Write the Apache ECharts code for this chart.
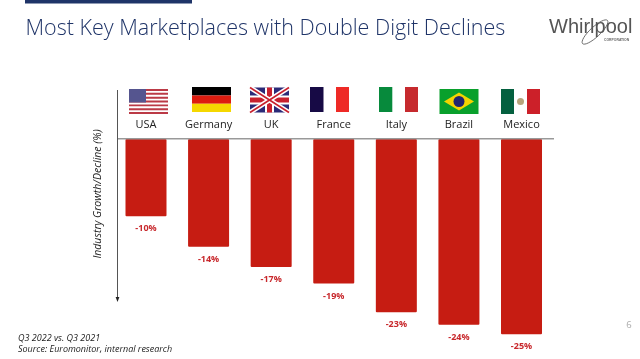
<!DOCTYPE html>
<html><head><meta charset="utf-8">
<style>html,body{margin:0;padding:0;background:#fff}#c{width:640px;height:359px}</style>
<script src="https://cdn.jsdelivr.net/npm/echarts@6/dist/echarts.min.js"></script>
</head><body><div id="c"></div>
<script>
var categories = ['USA','Germany','UK','France','Italy','Brazil','Mexico'];
var barValues = [-9.9, -13.8, -16.4, -18.5, -22.2, -23.8, -25];
var labelTexts = ['-10%','-14%','-17%','-19%','-23%','-24%','-25%'];

var chart = echarts.init(document.getElementById('c'), null, {renderer:'canvas'});
var FONT = '"Open Sans"';
function r(x,y,w,h,fill,z){return {type:'rect',shape:{x:x,y:y,width:w,height:h},style:{fill:fill},z:z||10};}
function poly(pts,fill){return {type:'polygon',shape:{points:pts},style:{fill:fill},z:11};}
function line(a,b,c,d,col,w){return {type:'line',shape:{x1:a,y1:b,x2:c,y2:d},style:{stroke:col,lineWidth:w},z:11};}

var g = [];
// header band
g.push(r(25,0,167,3.5,'#1f3468'));
// US flag
g.push(r(129,89,39,25,'#fff'));
for(var i=0;i<7;i++){g.push(r(129,89+i*3.85,39,1.95,'#bb3a46'));}
g.push(r(129,89,17,13.5,'#55558f'));
// Germany
g.push(r(192,87,39,8.4,'#000'));g.push(r(192,95.4,39,8.4,'#dd1c10'));g.push(r(192,103.8,39,8.3,'#f5d800'));
// UK
g.push(r(250,87.5,39,25,'#2b2a78'));
g.push(line(250,87.5,289,112.5,'#fff',5));g.push(line(289,87.5,250,112.5,'#fff',5));
g.push(line(250,87.5,289,112.5,'#c8202e',1.6));g.push(line(289,87.5,250,112.5,'#c8202e',1.6));
g.push(r(265,87.5,9,25,'#fff'));g.push(r(250,95.5,39,9,'#fff'));
g.push(r(267,87.5,5,25,'#c8202e'));g.push(r(250,97.5,39,5,'#c8202e'));
// France
g.push(r(310,87,13.5,25,'#170a45'));g.push(r(336,87,13,25,'#ee2a26'));
// Italy
g.push(r(379,87,13.3,25,'#078a3c'));g.push(r(405,87,13,25,'#c62a2e'));
// Brazil
g.push(r(439.5,89,39,25,'#09a02c'));
g.push(poly([[444,101.5],[459,92.5],[474,101.5],[459,110.5]],'#f4d400'));
g.push({type:'circle',shape:{cx:459,cy:101.5,r:5.5},style:{fill:'#22256e'},z:12});
// Mexico
g.push(r(501,89,13,25,'#04603f'));g.push(r(527,89,13,25,'#cc2029'));
g.push({type:'circle',shape:{cx:520.5,cy:101.5,r:3.5},style:{fill:'#b8a47c'},z:12});
// zero line
g.push(line(117,138.8,554,138.8,'#999',1.5));
// value axis line with arrow
g.push(line(117.5,90,117.5,298,'#555',1));
g.push(poly([[115.6,297],[119.4,297],[117.5,302]],'#222'));
// axis title
g.push({type:'text',x:98,y:194,rotation:Math.PI/2,z:12,style:{text:'Industry Growth/Decline (%)',font:'italic 10.5px '+FONT,fill:'#222',align:'center',verticalAlign:'middle'}});
// footnotes
g.push({type:'text',x:18,y:338,z:12,style:{text:'Q3 2022 vs. Q3 2021',font:'italic 9px '+FONT,fill:'#222',align:'left',verticalAlign:'middle'}});
g.push({type:'text',x:18,y:349,z:12,style:{text:'Source: Euromonitor, internal research',font:'italic 9px '+FONT,fill:'#222',align:'left',verticalAlign:'middle'}});
// page number
g.push({type:'text',x:629,y:325,z:12,style:{text:'6',font:'9.5px '+FONT,fill:'#aaa',align:'center',verticalAlign:'middle'}});
// logo
g.push({type:'text',x:549,y:27.5,z:12,style:{text:'Whirlpool',font:'20px "Liberation Sans"',fill:'#555',align:'left',verticalAlign:'middle'}});
g.push({type:'text',x:604,y:40,z:12,style:{text:'CORPORATION',font:'bold 3.4px "Liberation Sans"',fill:'#666',align:'left',verticalAlign:'middle'}});
g.push({type:'ellipse',x:595,y:32,rotation:0.75,shape:{cx:0,cy:0,rx:17,ry:5},style:{fill:'none',stroke:'#555',lineWidth:0.8},z:13});

chart.setOption({
  animation:false,
  backgroundColor:'#fff',
  title:{text:'Most Key Marketplaces with Double Digit Declines',left:25.5,top:18,padding:0,
    textStyle:{fontFamily:FONT,fontWeight:300,fontSize:21.5,color:'#1f3468'}},
  grid:{left:114.7,right:87.2,top:139,bottom:17},
  xAxis:{type:'category',data:categories,position:'top',
    axisLine:{show:false},axisTick:{show:false},
    axisLabel:{margin:9,fontFamily:FONT,fontSize:11,color:'#222',interval:0}},
  yAxis:{type:'value',min:-26,max:0,interval:2,show:false},
  series:[{type:'bar',data:barValues,barWidth:41,
    itemStyle:{color:'#c61c12',borderRadius:1},
    label:{show:true,position:'bottom',distance:8,fontFamily:FONT,fontWeight:'bold',fontSize:9,color:'#c8282c',
      formatter:function(p){return labelTexts[p.dataIndex];}}}],
  graphic:g
});
</script></body></html>
